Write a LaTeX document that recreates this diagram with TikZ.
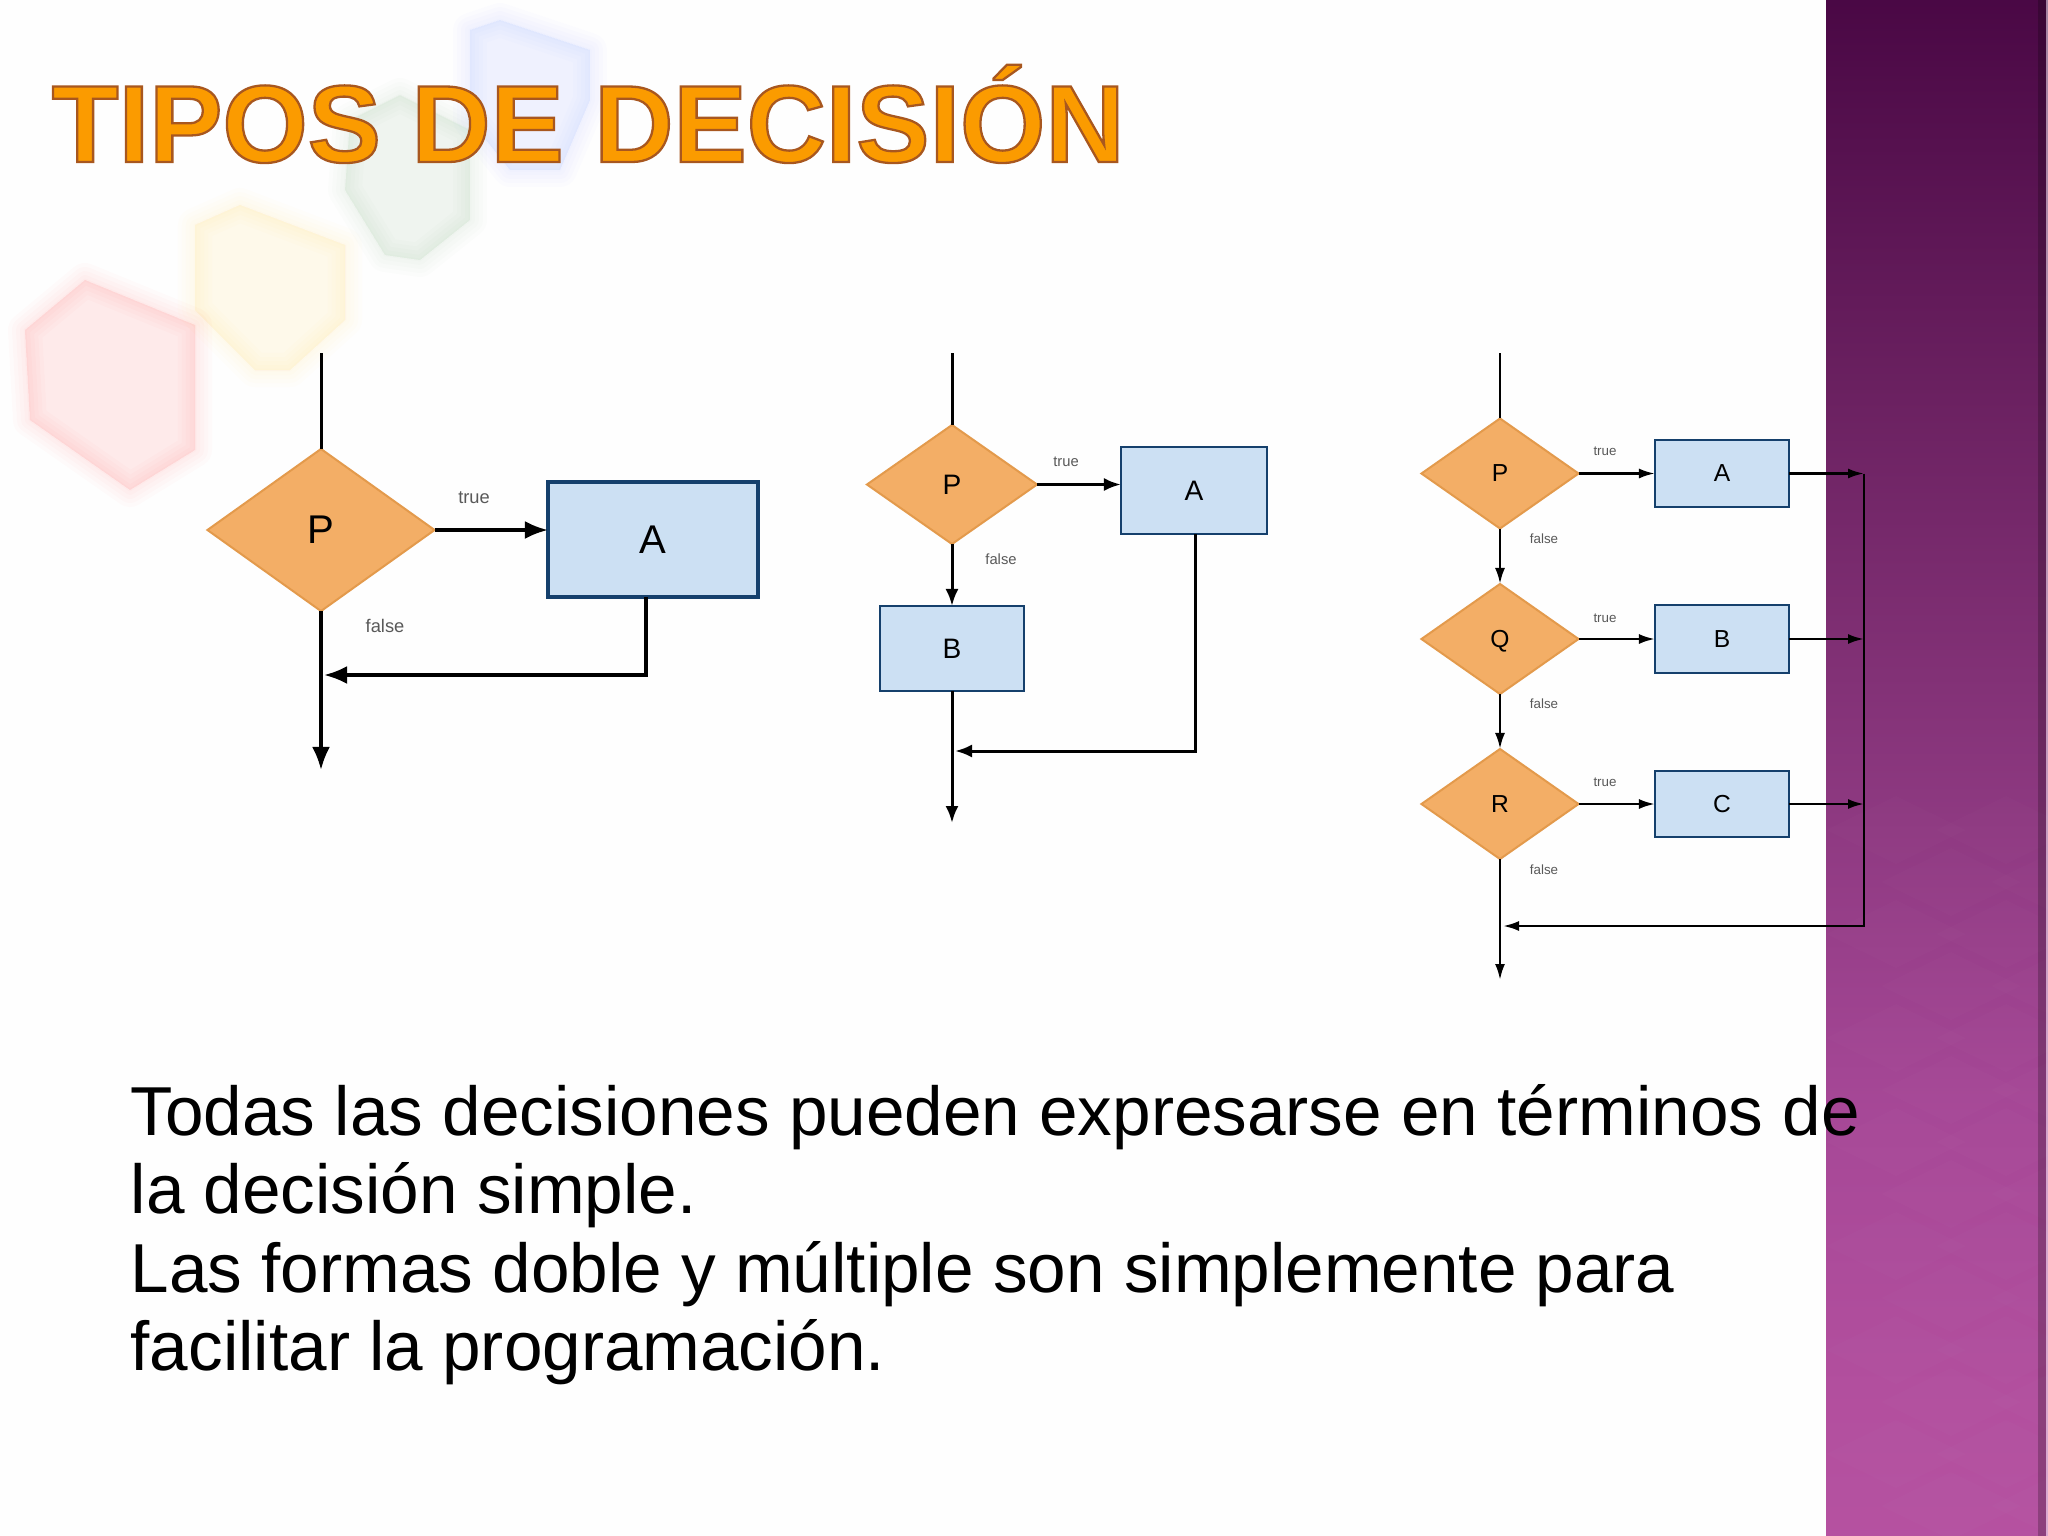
\documentclass[tikz,border=0pt]{standalone}
\usepackage{fontspec}
\setmainfont{Liberation Sans}
\usetikzlibrary{shapes.geometric,arrows.meta}

\definecolor{decfill}{HTML}{F3AE66}
\definecolor{decedge}{HTML}{E39A4C}
\definecolor{boxfill}{HTML}{CCE0F3}
\definecolor{boxedge}{HTML}{15406C}
\definecolor{titlefill}{HTML}{FB9B00}
\definecolor{titleedge}{HTML}{A8561E}

\pgfdeclareverticalshading{barshade}{100bp}{
  rgb(0bp)=(0.71,0.32,0.63);
  rgb(25bp)=(0.71,0.32,0.63);
  rgb(29.5bp)=(0.70,0.31,0.62);
  rgb(39bp)=(0.65,0.28,0.59);
  rgb(49bp)=(0.55,0.22,0.50);
  rgb(62bp)=(0.42,0.13,0.38);
  rgb(75bp)=(0.29,0.03,0.27);
  rgb(100bp)=(0.29,0.03,0.27)}

\tikzset{
  dec1/.style={diamond,draw=decedge,fill=decfill,line width=0.02cm,inner sep=0pt,outer sep=0pt,text depth=0pt,minimum width=2.27cm,minimum height=1.62cm,font=\fontsize{11.4pt}{12pt}\selectfont},
  dec2/.style={dec1,minimum width=1.70cm,minimum height=1.19cm,font=\fontsize{8pt}{9pt}\selectfont},
  dec3/.style={dec1,minimum width=1.57cm,minimum height=1.10cm,font=\fontsize{7pt}{8pt}\selectfont},
  box1/.style={rectangle,draw=boxedge,fill=boxfill,line width=0.035cm,inner sep=0pt,outer sep=0pt,text depth=0pt,font=\fontsize{11.4pt}{12pt}\selectfont},
  box2/.style={box1,line width=0.025cm,font=\fontsize{8pt}{9pt}\selectfont},
  box3/.style={box1,line width=0.02cm,font=\fontsize{7pt}{8pt}\selectfont},
  lab1/.style={text=black!65,inner sep=0pt,font=\fontsize{5.2pt}{6pt}\selectfont},
  lab2/.style={lab1,font=\fontsize{4.2pt}{5pt}\selectfont},
  lab3/.style={lab1,font=\fontsize{3.8pt}{5pt}\selectfont},
  line1/.style={line width=0.035cm,-{Latex[length=0.23cm,width=0.18cm]}},
  line2/.style={line width=0.03cm,-{Latex[length=0.17cm,width=0.13cm]}},
  line3/.style={line width=0.025cm,-{Latex[length=0.16cm,width=0.10cm]}},
  wire1/.style={line width=0.03cm},
  wire2/.style={line width=0.03cm},
  wire3/.style={line width=0.025cm}
}

\newcommand{\legobrick}[3]{
  \foreach \w in {0.34,0.26,0.18,0.10,0.03}
    \draw[#1,fill=#1,fill opacity=#2,draw opacity=#2,line width=\w cm,line join=round] #3 -- cycle;
}

\begin{document}
\begin{tikzpicture}[x=0.01cm,y=-0.01cm]
    \useasboundingbox (0,0) rectangle (2048,1536);
    \fill[white!99.5!black] (0,0) rectangle (2048,1536);

    \legobrick{blue!70!cyan}{0.011}{(470,30) -- (500,20) -- (590,50) -- (590,100) -- (560,170) -- (510,170) -- (470,120)}
    \legobrick{green!60!black}{0.013}{(350,120) -- (400,95) -- (470,130) -- (470,220) -- (420,260) -- (385,255) -- (345,190)}
    \legobrick{yellow!90!orange}{0.014}{(195,225) -- (240,205) -- (345,245) -- (345,320) -- (290,370) -- (255,370) -- (195,310)}
    \legobrick{red}{0.017}{(25,330) -- (85,280) -- (195,325) -- (195,450) -- (130,490) -- (30,420)}

    \shade[shading=barshade] (1826,0) rectangle (2048,1536);
    \begin{scope}
      \clip (1826,0) rectangle (2048,1536);
      \foreach \r in {0,...,13}
        \foreach \c in {0,1,2}
          \fill[white,opacity=0.012] ({1826+110*\c+55*mod(\r,2)},{830+52*\r}) -- ++(70,-34) -- ++(70,34) -- ++(-70,34) -- cycle;
    \end{scope}
    \fill[black,opacity=0.22] (2038,0) rectangle (2046,1536);
    \fill[white,opacity=0.5] (2046,0) rectangle (2048,1536);

    \node[anchor=base west,inner sep=0pt,font=\fontsize{31.2pt}{34pt}\selectfont\bfseries,text=titlefill] (title) at (51,162)
      {\special{pdf:code 2 Tr 0.65 w 0.66 0.34 0.12 RG}TIPOS DE DECISIÓN\special{pdf:code 0 Tr}};

    \begin{scope}
      \coordinate (in1) at (321,353);
      \coordinate (out1) at (321,770);
      \coordinate (back1) at (646,675);
      \coordinate (join1) at (324,675);
      \node[dec1] (p1) at (321,530) {P};
      \node[box1,minimum width=2.10cm,minimum height=1.15cm] (a1) at (653,539.5) {A};
      \node[lab1] (t1) at (474,498) {true};
      \node[lab1] (f1) at (385,626) {false};
      \draw[wire1] (in1) -- (p1.north);
      \draw[line1] (p1.south) -- (out1);
      \draw[line1] (p1.east) -- (p1.east -| a1.west);
      \draw[line1] (back1 |- a1.south) -- (back1) -- (join1);
    \end{scope}

    \begin{scope}
      \coordinate (in2) at (952,353);
      \coordinate (out2) at (952,823);
      \coordinate (back2) at (1195,751);
      \coordinate (join2) at (955,751);
      \node[dec2] (p2) at (952,484.5) {P};
      \node[box2,minimum width=1.46cm,minimum height=0.87cm] (a2) at (1194,490.5) {A};
      \node[box2,minimum width=1.44cm,minimum height=0.85cm] (b2) at (952,648.5) {B};
      \node[lab2] (t2) at (1066,462) {true};
      \node[lab2] (f2) at (1001,559) {false};
      \draw[wire2] (in2) -- (p2.north);
      \draw[line2] (p2.south) -- (b2.north);
      \draw[line2] (p2.east) -- (p2.east -| a2.west);
      \draw[line2] (b2.south) -- (out2);
      \draw[line2] (back2 |- a2.south) -- (back2) -- (join2);
    \end{scope}

    \begin{scope}
      \coordinate (in3) at (1500,353);
      \coordinate (out3) at (1500,980);
      \coordinate (rail3) at (1864,473.5);
      \coordinate (back3) at (1864,926);
      \coordinate (join3) at (1503,926);
      \node[dec3] (p3) at (1500,473.5) {P};
      \node[dec3] (q3) at (1500,639) {Q};
      \node[dec3] (r3) at (1500,804) {R};
      \node[box3,minimum width=1.34cm,minimum height=0.67cm] (a3) at (1722,473.5) {A};
      \node[box3,minimum width=1.34cm,minimum height=0.67cm] (b3) at (1722,639) {B};
      \node[box3,minimum width=1.34cm,minimum height=0.65cm] (c3) at (1722,804) {C};
      \node[lab3] (t3) at (1605,451.5) {true};
      \node[lab3] (u3) at (1605,618) {true};
      \node[lab3] (v3) at (1605,782) {true};
      \node[lab3] (f3) at (1544,539) {false};
      \node[lab3] (g3) at (1544,704) {false};
      \node[lab3] (h3) at (1544,870) {false};
      \draw[wire3] (in3) -- (p3.north);
      \draw[line3] (p3.south) -- (q3.north);
      \draw[line3] (q3.south) -- (r3.north);
      \draw[line3] (r3.south) -- (out3);
      \draw[line3] (p3.east) -- (a3.west);
      \draw[line3] (q3.east) -- (b3.west);
      \draw[line3] (r3.east) -- (c3.west);
      \draw[line3] (a3.east) -- (a3.east -| rail3);
      \draw[line3] (b3.east) -- (b3.east -| rail3);
      \draw[line3] (c3.east) -- (c3.east -| rail3);
      \draw[line3] (rail3) -- (back3) -- (join3);
    \end{scope}

    \node[anchor=base west,align=left,inner sep=0pt,font=\fontsize{19.7pt}{22.3pt}\selectfont] (body) at (130,1370.5)
      {Todas las decisiones pueden expresarse en términos de\\
       la decisión simple.\\
       Las formas doble y múltiple son simplemente para\\
       facilitar la programación.};
  \end{tikzpicture}
\end{document}
